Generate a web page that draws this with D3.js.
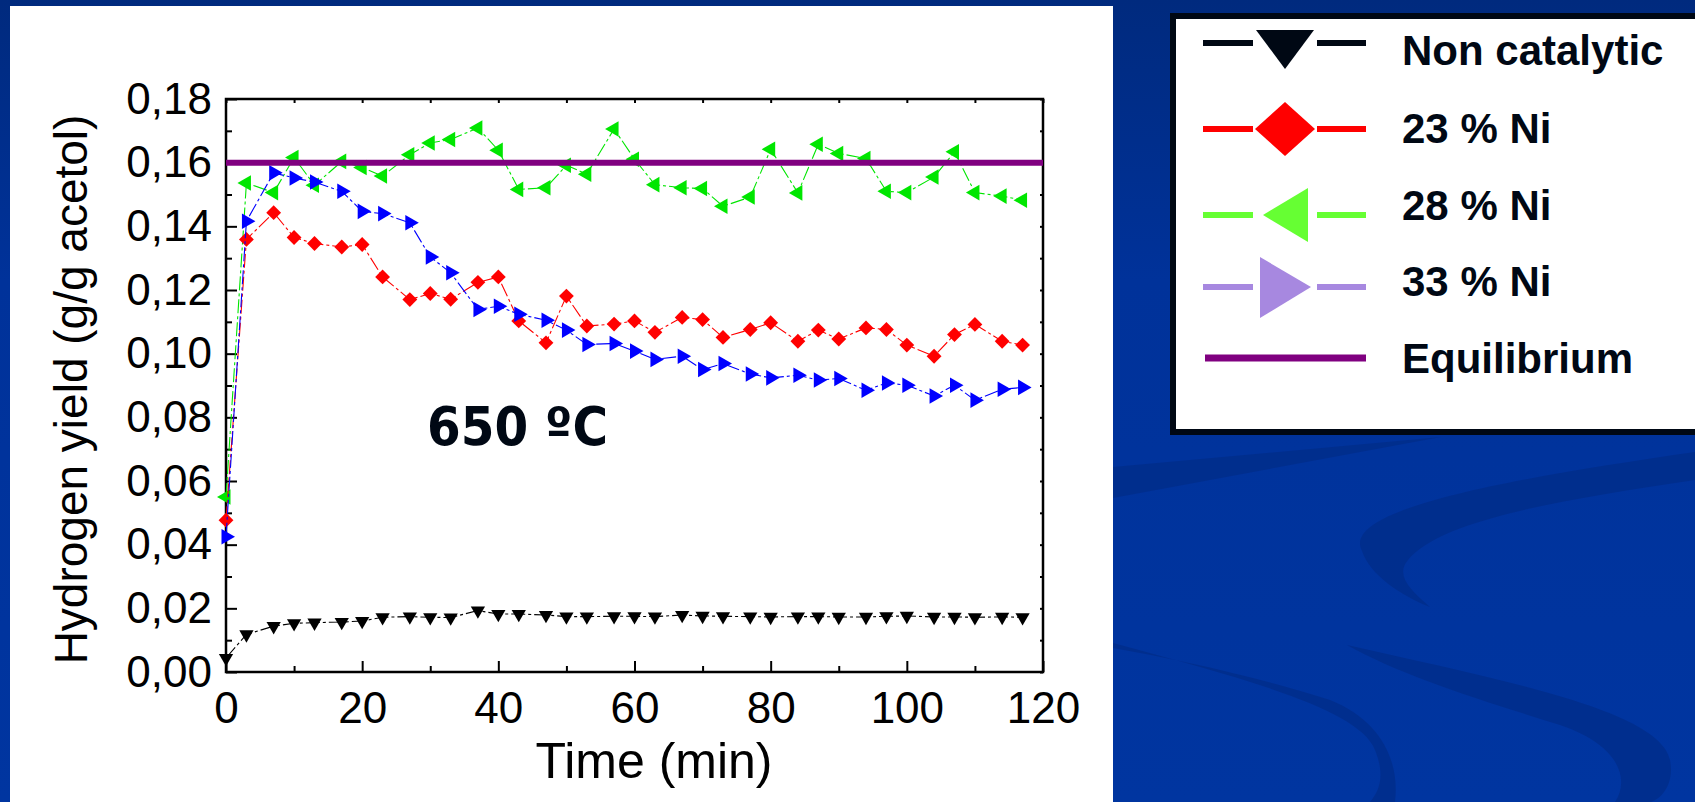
<!DOCTYPE html>
<html>
<head>
<meta charset="utf-8">
<script src="https://cdn.jsdelivr.net/npm/d3@7"></script>
<style>
  body { margin: 0; overflow: hidden; background: #00349e; }
  svg { display: block; }
</style>
</head>
<body>
<div id="vis-holder"></div>
<script>
// Data (time in min, yield in g H2 / g acetol)
const times = [0, 3, 7, 10, 13, 17, 20, 23, 27, 30, 33, 37, 40, 43, 47, 50, 53, 57,
               60, 63, 67, 70, 73, 77, 80, 84, 87, 90, 94, 97, 100, 104, 107, 110, 114, 117];

const nonCatalytic = [0.0044, 0.0118, 0.0144, 0.0153, 0.0155, 0.0157, 0.0160, 0.0172, 0.0174, 0.0172,
                      0.0171, 0.0193, 0.0182, 0.0182, 0.0179, 0.0174, 0.0174, 0.0175,
                      0.0175, 0.0174, 0.0179, 0.0176, 0.0175, 0.0174, 0.0173, 0.0174, 0.0174, 0.0173,
                      0.0173, 0.0175, 0.0176, 0.0173, 0.0173, 0.0172, 0.0173, 0.0172];

const ni23 = [0.0477, 0.1359, 0.1443, 0.1365, 0.1346, 0.1335, 0.1343, 0.1241, 0.1170, 0.1189,
              0.1171, 0.1224, 0.1241, 0.1103, 0.1034, 0.1181, 0.1087, 0.1093,
              0.1103, 0.1067, 0.1114, 0.1107, 0.1051, 0.1076, 0.1097, 0.1039, 0.1074, 0.1046,
              0.1081, 0.1076, 0.1027, 0.0992, 0.1060, 0.1092, 0.1039, 0.1027];

const ni28 = [0.0550, 0.1536, 0.1506, 0.1616, 0.1529, 0.1604, 0.1585, 0.1558, 0.1625, 0.1662,
              0.1673, 0.1709, 0.1639, 0.1516, 0.1521, 0.1592, 0.1564, 0.1706,
              0.1611, 0.1531, 0.1521, 0.1519, 0.1463, 0.1492, 0.1642, 0.1505, 0.1658, 0.1629,
              0.1613, 0.1510, 0.1506, 0.1555, 0.1634, 0.1506, 0.1495, 0.1482];

const ni33 = [0.0425, 0.1416, 0.1568, 0.1552, 0.1539, 0.1510, 0.1447, 0.1440, 0.1411, 0.1304,
              0.1254, 0.1139, 0.1149, 0.1124, 0.1105, 0.1074, 0.1029, 0.1032,
              0.1008, 0.0982, 0.0992, 0.0950, 0.0969, 0.0936, 0.0924, 0.0932, 0.0917, 0.0922,
              0.0885, 0.0908, 0.0901, 0.0867, 0.0901, 0.0854, 0.0888, 0.0894];

const equilibrium = 0.16;

const xTicks = [0, 20, 40, 60, 80, 100, 120];
const yTicks = [0, 0.02, 0.04, 0.06, 0.08, 0.10, 0.12, 0.14, 0.16, 0.18];

const legendLabels = ["Non catalytic", "23 % Ni", "28 % Ni", "33 % Ni", "Equilibrium"];

// Page and plot geometry
const W = 1695, H = 802;
const plot = { left: 226, right: 1043, top: 99, bottom: 672 };

const svg = d3.select("#vis-holder")
  .append("svg")
  .attr("width", W)
  .attr("height", H);

// Slide background
const defs = svg.append("defs");
const grad = defs.append("linearGradient")
  .attr("id", "bg")
  .attr("x1", 0).attr("y1", 0).attr("x2", 0).attr("y2", 1);
grad.append("stop").attr("offset", "0%").attr("stop-color", "#002a7e");
grad.append("stop").attr("offset", "35%").attr("stop-color", "#00329a");
grad.append("stop").attr("offset", "100%").attr("stop-color", "#0035a0");

svg.append("rect").attr("width", W).attr("height", H).attr("fill", "url(#bg)");

// faint swooshes of the slide template
const swooshes = [
  "M1113,467 L1441,437 L1113,498 Z",
  "M1695,452 C1500,480 1340,510 1362,551 C1370,575 1400,595 1430,607 C1410,590 1395,575 1408,560 C1440,520 1560,500 1695,480 Z",
  "M1113,643 C1250,680 1360,710 1375,750 C1385,775 1380,790 1370,802 L1395,802 C1400,760 1380,720 1330,700 C1250,675 1180,660 1113,648 Z",
  "M1347,645 C1500,680 1660,710 1670,760 C1675,785 1660,800 1650,802 L1615,802 C1630,780 1620,745 1560,725 C1480,700 1400,675 1347,645 Z"
];
svg.selectAll("path.swoosh")
  .data(swooshes)
  .enter()
  .append("path")
  .attr("class", "swoosh")
  .attr("d", (d) => d)
  .attr("fill", "#002d8a")
  .attr("opacity", 0.8);

// white panel holding the chart
svg.append("rect")
  .attr("x", 10).attr("y", 6)
  .attr("width", 1103).attr("height", H)
  .attr("fill", "#ffffff");

// Scales
const x = d3.scaleLinear().domain([0, 120]).range([plot.left, plot.right]);
const y = d3.scaleLinear().domain([0, 0.18]).range([plot.bottom, plot.top]);

const fmt = (d) => d3.format(".2f")(d).replace(".", ",");
const minorX = d3.range(10, 120, 20);
const allX = d3.range(0, 121, 10);
const minorY = d3.range(1, 18, 2).map((i) => i / 100);
const allY = d3.range(0, 19).map((i) => i / 100);

const tickFont = "'Liberation Sans', Arial, sans-serif";

function styleAxis(g) {
  g.select(".domain").remove();
  g.selectAll(".tick line").attr("stroke", "#000").attr("stroke-width", 2);
  g.selectAll("text")
    .attr("font-family", tickFont)
    .attr("font-size", 44)
    .attr("fill", "#000");
}

// bottom axis
svg.append("g")
  .attr("transform", `translate(0,${plot.bottom})`)
  .call(d3.axisBottom(x).tickValues(xTicks).tickSize(-11).tickPadding(20).tickFormat(d3.format("d")))
  .call(styleAxis);
svg.append("g")
  .attr("transform", `translate(0,${plot.bottom})`)
  .call(d3.axisBottom(x).tickValues(minorX).tickSize(-6).tickFormat(""))
  .call(styleAxis);

// left axis
svg.append("g")
  .attr("transform", `translate(${plot.left},0)`)
  .call(d3.axisLeft(y).tickValues(yTicks).tickSize(-11).tickPadding(14).tickFormat(fmt))
  .call(styleAxis);
svg.append("g")
  .attr("transform", `translate(${plot.left},0)`)
  .call(d3.axisLeft(y).tickValues(minorY).tickSize(-6).tickFormat(""))
  .call(styleAxis);

// top and right axes: short inner ticks only
svg.append("g")
  .attr("transform", `translate(0,${plot.top})`)
  .call(d3.axisTop(x).tickValues(allX).tickSize(-4).tickFormat(""))
  .call(styleAxis);
svg.append("g")
  .attr("transform", `translate(${plot.right},0)`)
  .call(d3.axisRight(y).tickValues(allY).tickSize(-3).tickFormat(""))
  .call(styleAxis);

// frame
svg.append("rect")
  .attr("x", plot.left).attr("y", plot.top)
  .attr("width", plot.right - plot.left)
  .attr("height", plot.bottom - plot.top)
  .attr("fill", "none")
  .attr("stroke", "#000")
  .attr("stroke-width", 2.5);

// axis titles
svg.append("text")
  .attr("transform", `translate(87,${(plot.top + plot.bottom) / 2 + 4}) rotate(-90)`)
  .attr("text-anchor", "middle")
  .attr("font-family", tickFont)
  .attr("font-size", 46)
  .attr("fill", "#000")
  .text("Hydrogen yield (g/g acetol)");

svg.append("text")
  .attr("x", 654)
  .attr("y", 778)
  .attr("text-anchor", "middle")
  .attr("font-family", tickFont)
  .attr("font-size", 50)
  .attr("fill", "#000")
  .text("Time (min)");

// Series
const series = [
  { name: "ni28", values: ni28, color: "#00e600", shape: d3.symbolTriangle, rot: -90, size: 105 },
  { name: "ni23", values: ni23, color: "#ff0000", shape: d3.symbolSquare, rot: 45, size: 110 },
  { name: "ni33", values: ni33, color: "#0000ff", shape: d3.symbolTriangle, rot: 90, size: 105 },
  { name: "nonCatalytic", values: nonCatalytic, color: "#000000", shape: d3.symbolTriangle, rot: 180, size: 88 }
];

const line = d3.line()
  .x((d) => x(d.t))
  .y((d) => y(d.v));

series.forEach((s) => {
  const pts = times.map((t, i) => ({ t: t, v: s.values[i] }));
  const g = svg.append("g").attr("class", s.name);
  g.append("path")
    .datum(pts)
    .attr("d", line)
    .attr("fill", "none")
    .attr("stroke", s.color)
    .attr("stroke-width", 1.1)
    .attr("stroke-dasharray", "14,3,3,3");
  g.selectAll("path.mark")
    .data(pts)
    .enter()
    .append("path")
    .attr("class", "mark")
    .attr("d", d3.symbol().type(s.shape).size(s.size))
    .attr("transform", (d) => `translate(${x(d.t)},${y(d.v)}) rotate(${s.rot})`)
    .attr("fill", s.color);
});

// equilibrium line
svg.append("line")
  .attr("x1", x(0)).attr("x2", x(120))
  .attr("y1", y(equilibrium)).attr("y2", y(equilibrium))
  .attr("stroke", "#800080")
  .attr("stroke-width", 6);

// temperature label
svg.append("text")
  .attr("x", 427)
  .attr("y", 445)
  .attr("font-family", "'DejaVu Sans', Verdana, sans-serif")
  .attr("font-weight", "bold")
  .attr("font-size", 53)
  .attr("textLength", 181)
  .attr("lengthAdjust", "spacingAndGlyphs")
  .attr("fill", "#000814")
  .text("650 ºC");

// Legend
const legend = svg.append("g");
legend.append("rect")
  .attr("x", 1170).attr("y", 13)
  .attr("width", 540).attr("height", 422)
  .attr("fill", "#000814");
legend.append("rect")
  .attr("x", 1176).attr("y", 19)
  .attr("width", 540).attr("height", 410)
  .attr("fill", "#ffffff");

const legendRows = [
  { label: legendLabels[0], color: "#000814", y: 43, base: 65,
    shape: "M-29,-13 L29,-13 L0,26 Z" },
  { label: legendLabels[1], color: "#ff0000", y: 129, base: 143,
    shape: "M-30,0 L0,-27 L30,0 L0,27 Z" },
  { label: legendLabels[2], color: "#66ff33", y: 215, base: 220,
    shape: "M-22,0 L23,-27 L23,27 Z" },
  { label: legendLabels[3], color: "#a788e0", y: 287, base: 296,
    shape: "M-25,-30 L26,0 L-25,31 Z" },
  { label: legendLabels[4], color: "#800080", y: 358, base: 373, shape: null }
];

legendRows.forEach((r) => {
  if (r.shape) {
    legend.append("line")
      .attr("x1", 1203).attr("x2", 1253)
      .attr("y1", r.y).attr("y2", r.y)
      .attr("stroke", r.color).attr("stroke-width", 6);
    legend.append("line")
      .attr("x1", 1317).attr("x2", 1366)
      .attr("y1", r.y).attr("y2", r.y)
      .attr("stroke", r.color).attr("stroke-width", 6);
    legend.append("path")
      .attr("d", r.shape)
      .attr("transform", `translate(1285,${r.y})`)
      .attr("fill", r.color);
  } else {
    legend.append("line")
      .attr("x1", 1205).attr("x2", 1366)
      .attr("y1", r.y).attr("y2", r.y)
      .attr("stroke", r.color).attr("stroke-width", 7);
  }
  legend.append("text")
    .attr("x", 1402)
    .attr("y", r.base)
    .attr("font-family", tickFont)
    .attr("font-weight", "bold")
    .attr("font-size", 42)
    .attr("fill", "#000814")
    .text(r.label);
});
</script>
</body>
</html>
